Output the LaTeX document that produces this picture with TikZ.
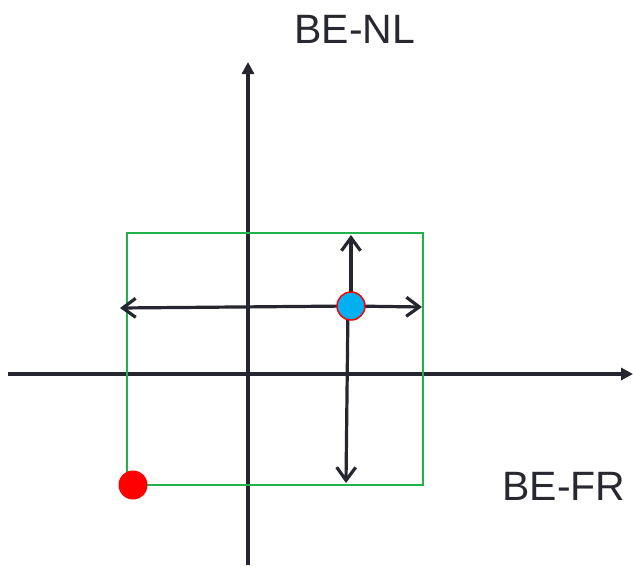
\documentclass[tikz,border=0pt]{standalone}
\usepackage{fontspec}
\setmainfont{Liberation Sans}
\usetikzlibrary{arrows.meta,positioning}
\definecolor{axisDark}{RGB}{38,38,48}
\definecolor{boxGreen}{RGB}{34,178,76}
\definecolor{dotBlue}{RGB}{0,176,240}
\definecolor{dotRed}{RGB}{255,0,0}
\definecolor{labelGray}{RGB}{40,40,48}

\begin{document}
\begin{tikzpicture}[x=1pt,y=-1pt,
    axisline/.style={axisDark, line width=3.2pt, -{Triangle[length=12pt,width=12pt]}},
    moveline/.style={axisDark, line width=3.2pt, -{Straight Barb[length=13pt,width=19pt,line width=3.2pt]}},
    bluedot/.style={circle, fill=dotBlue, draw=dotRed, line width=1.5pt, minimum size=28pt, inner sep=0pt},
    reddot/.style={circle, fill=dotRed, minimum size=29pt, inner sep=0pt},
    axislabel/.style={text=labelGray, font=\fontsize{41}{43}\selectfont, inner sep=0pt}]
    \useasboundingbox (0,0) rectangle (633,566);
    % axes
    \coordinate (xstart) at (8,374);
    \coordinate (xend) at (633,374);
    \coordinate (ystart) at (248,565);
    \coordinate (yend) at (248,62);
    \draw[axisline] (xstart) -- (xend);
    \draw[axisline] (ystart) -- (yend);
    \node[axislabel] (nl) at (355,29) {BE-NL};
    \node[axislabel] (fr) at (564,486) {BE-FR};
    % feasible region
    \draw[boxGreen, line width=2pt] (127,233) rectangle (423,485);
    % moves from the operating point
    \coordinate (op) at (351,306);
    \coordinate (tipup) at (351,235);
    \coordinate (tipright) at (422,307);
    \coordinate (tipleft) at (120,308);
    \coordinate (tipdown) at (346,483);
    \draw[moveline] (op) -- (tipup);
    \draw[moveline] (op) -- (tipright);
    \draw[moveline] (op) -- (tipleft);
    \draw[moveline] ([xshift=-3pt]op) -- (tipdown);
    \node[bluedot] (blue) at (op) {};
    \node[reddot] (red) at (133,485) {};
\end{tikzpicture}
\end{document}
